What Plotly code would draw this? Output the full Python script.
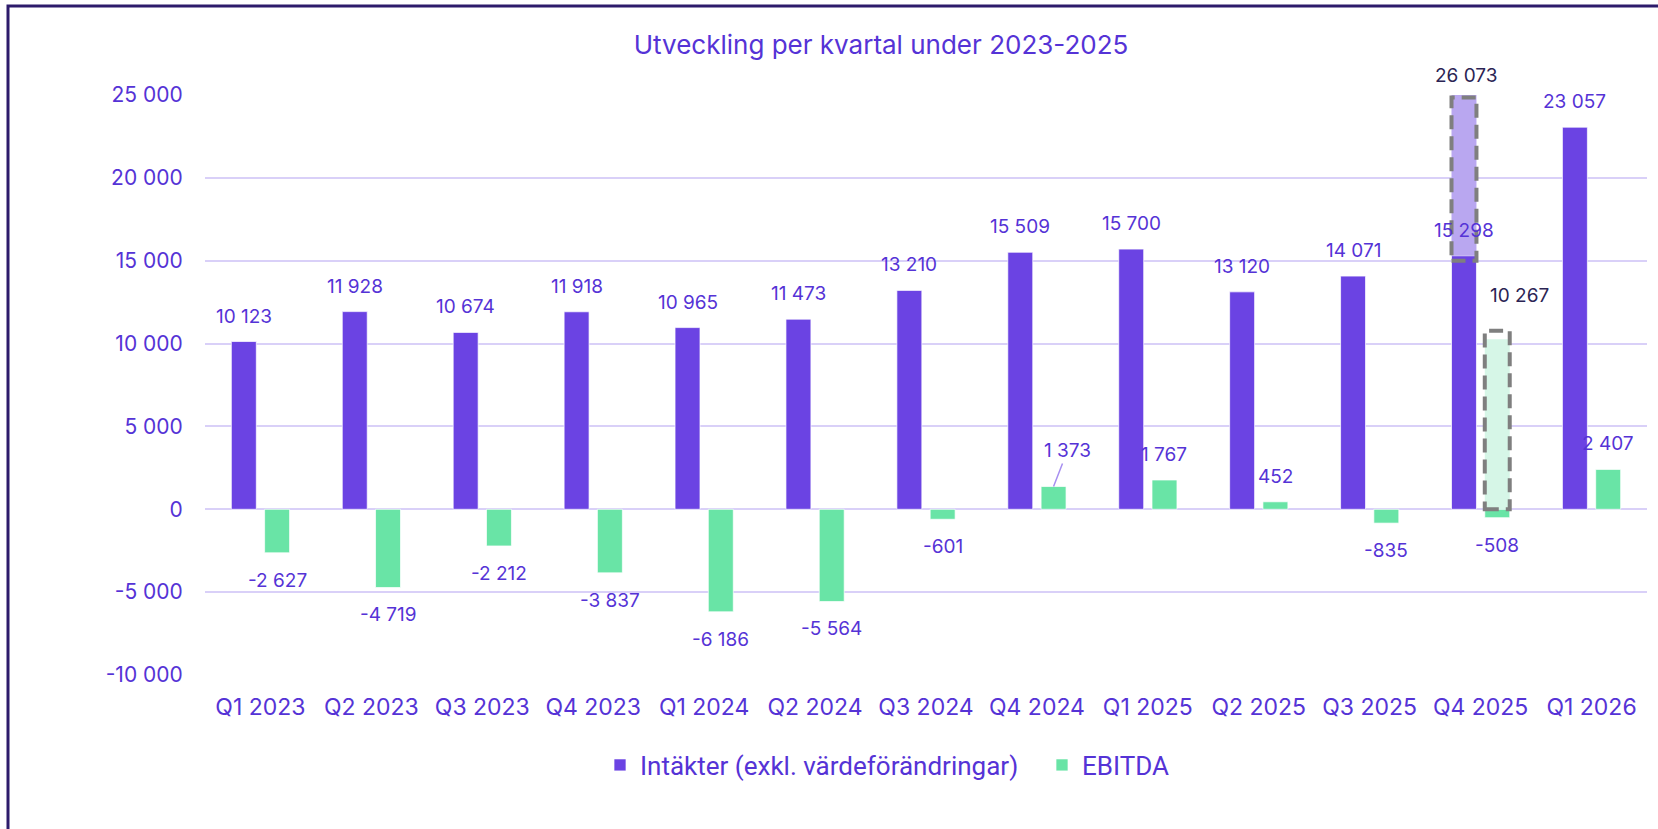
import plotly.graph_objects as go

# ---------------- data ----------------
categories = ["Q1 2023", "Q2 2023", "Q3 2023", "Q4 2023", "Q1 2024", "Q2 2024", "Q3 2024",
              "Q4 2024", "Q1 2025", "Q2 2025", "Q3 2025", "Q4 2025", "Q1 2026"]
revenue = [10123, 11928, 10674, 11918, 10965, 11473, 13210, 15509, 15700, 13120, 14071, 15298, 23057]
ebitda = [-2627, -4719, -2212, -3837, -6186, -5564, -601, 1373, 1767, 452, -835, -508, 2407]
forecast_category = "Q4 2025"
forecast_revenue = 26073
forecast_ebitda = 10267
y_ticks = [-10000, -5000, 0, 5000, 10000, 15000, 20000, 25000]

series_names = ["Intäkter (exkl. värdeförändringar)", "EBITDA"]
title_text = "Utveckling per kvartal under 2023-2025"

# ---------------- style ----------------
PURPLE = "#6B43E3"
GREEN = "#69E4A6"
LIGHT_PURPLE = "#B9A7F0"
LIGHT_GREEN = "#D6F6E7"
TEXT = "#5533D6"
DARK_TEXT = "#2B2454"
GRID = "#D9D0F8"
FONT = "Inter, Roboto, sans-serif"

W, H = 1658, 829
L, R, T, B = 205, 11, 95, 154
PW, PH = W - L - R, H - T - B
Y_MIN, Y_MAX = -10000, 25000

BAR_W = 0.225
OFF_REV = -0.2625
OFF_EB = 0.0375
cat_px = PW / len(categories)
shift_rev = (OFF_REV + BAR_W / 2) * cat_px
shift_eb = (OFF_EB + BAR_W / 2) * cat_px


def fmt(v):
    s = f"{abs(v):,}".replace(",", " ")
    return ("-" if v < 0 else "") + s


def y_paper(v):
    return (v - Y_MIN) / (Y_MAX - Y_MIN)


fig = go.Figure()
fig.add_trace(go.Bar(x=categories, y=revenue, name=series_names[0], marker_color=PURPLE,
                     marker_line=dict(color="rgba(255,255,255,0.7)", width=1),
                     width=BAR_W, offset=OFF_REV))
fig.add_trace(go.Bar(x=categories, y=ebitda, name=series_names[1], marker_color=GREEN,
                     marker_line=dict(color="rgba(255,255,255,0.7)", width=1),
                     width=BAR_W, offset=OFF_EB))

k = categories.index(forecast_category)
fig.add_trace(go.Bar(x=[forecast_category], y=[forecast_revenue - revenue[k]], base=[revenue[k]],
                     marker_color=LIGHT_PURPLE, width=BAR_W, offset=OFF_REV, showlegend=False,
                     marker_line_width=0))
fig.add_trace(go.Bar(x=[forecast_category], y=[forecast_ebitda], base=[0],
                     marker_color=LIGHT_GREEN, width=BAR_W, offset=OFF_EB, showlegend=False,
                     marker_line_width=0))

LABEL_FONT = dict(family=FONT, size=19, color=TEXT)
annotations = []
for c, v in zip(categories, revenue):
    annotations.append(dict(x=c, y=v, xref="x", yref="y", text=fmt(v), showarrow=False,
                            xshift=shift_rev, yshift=12, yanchor="bottom", font=LABEL_FONT))
for c, v in zip(categories, ebitda):
    if c == "Q4 2024":
        annotations.append(dict(x=c, y=v, xref="x", yref="y", text=fmt(v), showarrow=True,
                                arrowhead=0, arrowwidth=1.5, arrowcolor="#A78FF0",
                                ax=14, ay=-36, xshift=shift_eb, font=LABEL_FONT))
    elif v >= 0:
        annotations.append(dict(x=c, y=v, xref="x", yref="y", text=fmt(v), showarrow=False,
                                xshift=shift_eb, yshift=12, yanchor="bottom", font=LABEL_FONT))
    else:
        annotations.append(dict(x=c, y=v, xref="x", yref="y", text=fmt(v), showarrow=False,
                                xshift=shift_eb, yshift=-14, yanchor="top", font=LABEL_FONT))

annotations.append(dict(x=forecast_category, y=y_paper(forecast_revenue), xref="x", yref="paper",
                        text=fmt(forecast_revenue), showarrow=False, xshift=shift_rev + 3,
                        yshift=2, yanchor="middle",
                        font=dict(family=FONT, size=19, color=DARK_TEXT)))
annotations.append(dict(x=forecast_category, y=forecast_ebitda, xref="x", yref="y",
                        text=fmt(forecast_ebitda), showarrow=False, xshift=shift_eb + 22,
                        yshift=30, yanchor="bottom",
                        font=dict(family=FONT, size=19, color=DARK_TEXT)))

shapes = [
    dict(type="rect", xref="x", yref="y", x0=k + OFF_REV, x1=k + OFF_REV + BAR_W,
         y0=revenue[k] - 300, y1=min(forecast_revenue, Y_MAX) - 150,
         line=dict(color="#7F7F7F", width=4, dash="14px,7px"), layer="above"),
    dict(type="rect", xref="x", yref="y", x0=k + OFF_EB, x1=k + OFF_EB + BAR_W,
         y0=0, y1=forecast_ebitda + 500,
         line=dict(color="#7F7F7F", width=4, dash="14px,7px"), layer="above"),
    # outer frame
    dict(type="rect", xref="paper", yref="paper",
         x0=(8 - L) / PW, x1=(W + 10 - L) / PW,
         y0=(H - B - (H + 10)) / PH, y1=(H - B - 6) / PH,
         line=dict(color="#2D1B6B", width=3), fillcolor="rgba(0,0,0,0)"),
]

fig.update_layout(
    width=W, height=H,
    margin=dict(l=L, r=R, t=T, b=B, autoexpand=False),
    paper_bgcolor="white", plot_bgcolor="white",
    barmode="overlay",
    title=dict(text=title_text, x=881 / W, xanchor="center", y=1 - 45 / H, yanchor="middle",
               font=dict(family=FONT, size=26, color=TEXT)),
    xaxis=dict(type="category", tickfont=dict(family=FONT, size=23, color=TEXT),
               showgrid=False, showline=False, ticks="outside", ticklen=11,
               tickcolor="rgba(0,0,0,0)", range=[-0.5, len(categories) - 0.5]),
    yaxis=dict(range=[Y_MIN, Y_MAX], tickvals=y_ticks, ticktext=[fmt(v) for v in y_ticks],
               tickfont=dict(family=FONT, size=21, color=TEXT), showgrid=True,
               gridcolor=GRID, gridwidth=1.5, zeroline=True, zerolinecolor=GRID,
               zerolinewidth=1.5, ticks="outside", ticklen=17, tickcolor="rgba(0,0,0,0)",
               showline=False),
    legend=dict(orientation="h", x=(600 - L) / PW, xanchor="left", y=(H - B - 765) / PH,
                yanchor="middle", font=dict(family="Roboto, sans-serif", size=26, color=TEXT),
                itemwidth=30, bgcolor="rgba(0,0,0,0)", entrywidth=397, entrywidthmode="pixels"),
    annotations=annotations,
    shapes=shapes,
    showlegend=True,
)

fig.write_html("out.html", config={"displayModeBar": False},
               post_script="document.body.style.margin='0';")
